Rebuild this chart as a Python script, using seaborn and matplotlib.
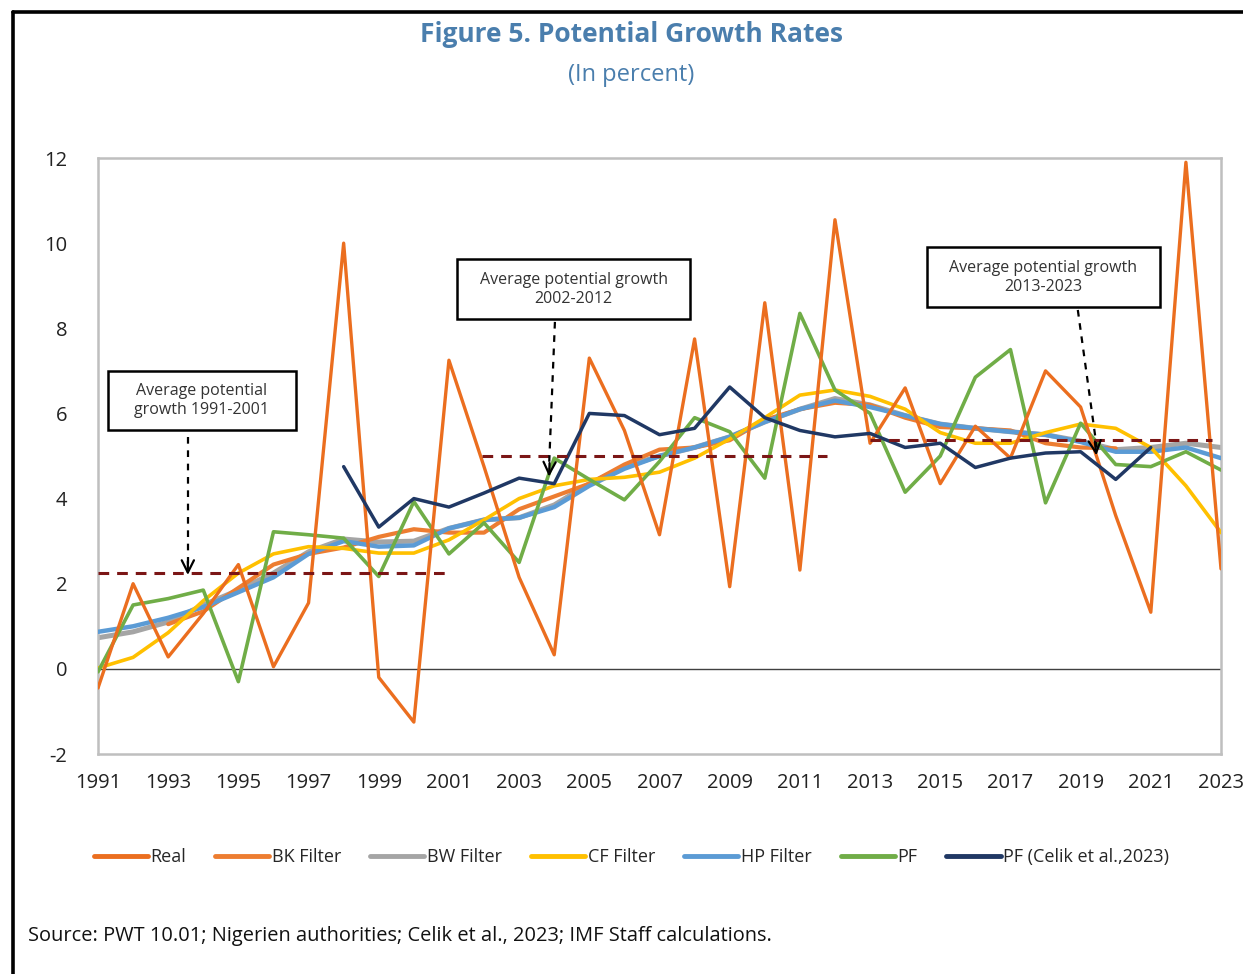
import numpy as np
import pandas as pd
import seaborn as sns
import matplotlib.pyplot as plt
from matplotlib.lines import Line2D
from matplotlib.patches import Rectangle

#data (percent)
years = list(range(1991, 2024))
real = [-0.45, 2.0, 0.28, 1.3, 2.45, 0.05, 1.55, 10.0, -0.2, -1.25, 7.25,
        4.75, 2.15, 0.33, 7.3, 5.6, 3.15, 7.75, 1.93, 8.6, 2.32, 10.55,
        5.3, 6.6, 4.35, 5.7, 4.95, 7.0, 6.15, 3.6, 1.33, 11.9, 2.35]
bk = [np.nan, np.nan, 1.05, 1.35, 1.9, 2.45, 2.7, 2.85, 3.1, 3.28, 3.2,
      3.2, 3.75, 4.05, 4.35, 4.8, 5.15, 5.2, 5.37, 5.85, 6.1, 6.25,
      6.2, 5.9, 5.68, 5.65, 5.6, 5.3, 5.2, 5.18, np.nan, np.nan, np.nan]
bw = [0.73, 0.87, 1.1, 1.5, 1.85, 2.25, 2.75, 3.05, 2.98, 3.0, 3.3,
      3.5, 3.55, 3.85, 4.35, 4.75, 5.0, 5.2, 5.45, 5.8, 6.1, 6.35,
      6.2, 5.95, 5.75, 5.65, 5.57, 5.5, 5.35, 5.15, 5.2, 5.3, 5.2]
cf = [0.02, 0.27, 0.85, 1.6, 2.25, 2.7, 2.87, 2.83, 2.72, 2.72, 3.03,
      3.5, 4.0, 4.3, 4.45, 4.5, 4.62, 4.95, 5.4, 5.9, 6.43, 6.55,
      6.4, 6.1, 5.55, 5.3, 5.3, 5.55, 5.75, 5.65, 5.2, 4.3, 3.2]
hp = [0.87, 1.0, 1.2, 1.45, 1.8, 2.15, 2.7, 3.0, 2.87, 2.9, 3.3,
      3.5, 3.55, 3.8, 4.3, 4.7, 5.0, 5.2, 5.45, 5.8, 6.1, 6.3,
      6.15, 5.95, 5.75, 5.65, 5.57, 5.5, 5.33, 5.1, 5.1, 5.2, 4.95]
pf = [-0.07, 1.5, 1.65, 1.85, -0.3, 3.22, 3.15, 3.07, 2.17, 3.93, 2.7,
      3.43, 2.5, 4.95, 4.45, 3.97, 4.87, 5.9, 5.57, 4.48, 8.35, 6.55,
      6.0, 4.15, 5.0, 6.85, 7.5, 3.9, 5.77, 4.8, 4.75, 5.1, 4.67]
celik = [np.nan] * 7 + [4.75, 3.33, 4.0, 3.8,
         4.13, 4.48, 4.35, 6.0, 5.95, 5.5, 5.65, 6.62, 5.9, 5.6, 5.45,
         5.53, 5.2, 5.3, 4.73, 4.95, 5.07, 5.1, 4.45, 5.2, np.nan, np.nan]

#average potential growth by period
periods = ['1991-2001', '2002-2012', '2013-2023']
period_start = [1991, 2001.94, 2013.0]
period_end = [2000.9, 2011.77, 2022.74]
period_avg = [2.25, 5.0, 5.37]

df = pd.DataFrame({'year': years, 'Real': real, 'BK Filter': bk, 'BW Filter': bw,
                   'CF Filter': cf, 'HP Filter': hp, 'PF': pf,
                   'PF (Celik et al.,2023)': celik})

sns.set_style('white')
plt.rcParams['font.family'] = ['Open Sans', 'DejaVu Sans']
plt.rcParams['axes.unicode_minus'] = False

fig = plt.figure(figsize=(12.43, 9.74), dpi=100)
ax = fig.add_axes([98/1243, 1-754/974, (1221-98)/1243, (754-158)/974])

# name, color, width, z-order
styles = [('BW Filter', '#A5A5A5', 3.6, 2),
          ('HP Filter', '#5B9BD5', 3.2, 3),
          ('BK Filter', '#ED7D31', 3.0, 2.5),
          ('CF Filter', '#FFC000', 2.6, 4),
          ('PF', '#70AD47', 2.6, 5),
          ('Real', '#EB6E1F', 2.4, 6),
          ('PF (Celik et al.,2023)', '#203864', 2.5, 7)]
for name, col, lw, z in styles:
    sub = df[['year', name]].dropna()
    sns.lineplot(data=sub, x='year', y=name, color=col, lw=lw, ax=ax,
                 zorder=z, label=name, legend=False)

for s, e, a in zip(period_start, period_end, period_avg):
    ax.plot([s, e], [a, a], color='#7B1616', lw=2.2, dashes=(3.5, 2.6), zorder=8)

ax.axhline(0, color='#404040', lw=1.0, zorder=1)

#annotation boxes + dashed arrows
boxes = [(1991.28, 5.61, 5.36, 1.39, 'Average potential\ngrowth 1991-2001', (1993.56, 5.45), (1993.56, 2.14)),
         (2001.23, 8.22, 6.64, 1.40, 'Average potential growth\n2002-2012', (2004.02, 8.15), (2003.85, 4.45)),
         (2014.62, 8.50, 6.64, 1.40, 'Average potential growth\n2013-2023', (2018.92, 8.43), (2019.46, 4.95))]
for x0, y0, w, h, txt, p0, p1 in boxes:
    ax.add_patch(Rectangle((x0, y0), w, h, fill=True, fc='white', ec='black', lw=1.8, zorder=9))
    ax.text(x0 + w/2, y0 + h/2, txt, ha='center', va='center', fontsize=11.5,
            color='#333333', zorder=10, linespacing=1.25)
    ax.plot([p0[0], p1[0]], [p0[1], p1[1] + 0.25], color='black', lw=1.6,
            dashes=(3, 3), zorder=9)
    ax.annotate('', xy=p1, xytext=(p1[0] + (p0[0]-p1[0])*0.12, p1[1] + 0.45),
                arrowprops=dict(arrowstyle='->', color='black', lw=1.6,
                                mutation_scale=22), zorder=10)

ax.set_xlim(1991, 2023)
ax.set_ylim(-2, 12)
ax.set_xticks(range(1991, 2024, 2))
ax.set_yticks(range(-2, 13, 2))
ax.set_xlabel('')
ax.set_ylabel('')
ax.tick_params(axis='x', length=0, labelsize=14.5, pad=14, colors='#222222')
ax.tick_params(axis='y', direction='in', length=6, color='#BFBFBF',
               labelsize=14.5, pad=22, colors='#222222')
ax.tick_params(axis='y', color='#BFBFBF')
for sp in ax.spines.values():
    sp.set_color('#BFBFBF')
    sp.set_linewidth(1.8)

fig.text(0.508, 1-35/974, 'Figure 5. Potential Growth Rates', ha='center', va='center',
         fontsize=19, fontweight='bold', color='#4A7EAD')
fig.text(0.508, 1-75/974, '(In percent)', ha='center', va='center',
         fontsize=17, color='#4A7EAD')

order = ['Real', 'BK Filter', 'BW Filter', 'CF Filter', 'HP Filter', 'PF', 'PF (Celik et al.,2023)']
cols = {n: c for n, c, _, _ in styles}
handles = [Line2D([], [], color=cols[n], lw=3.5) for n in order]
fig.legend(handles, order, loc='center', bbox_to_anchor=(0.508, 1-857/974), ncol=7,
           frameon=False, fontsize=13, handlelength=3.0, handletextpad=0.15,
           columnspacing=1.6)

fig.text(28/1243, 1-936/974,
         'Source: PWT 10.01; Nigerien authorities; Celik et al., 2023; IMF Staff calculations.',
         ha='left', va='center', fontsize=14.4, color='#111111')

#outer frame (left and top only)
fig.add_artist(Line2D([13/1243, 13/1243], [0, 1-12/974], color='black', lw=2.6,
                      transform=fig.transFigure))
fig.add_artist(Line2D([13/1243, 1], [1-12/974, 1-12/974], color='black', lw=2.6,
                      transform=fig.transFigure))

fig.savefig('out.png', dpi=100)
